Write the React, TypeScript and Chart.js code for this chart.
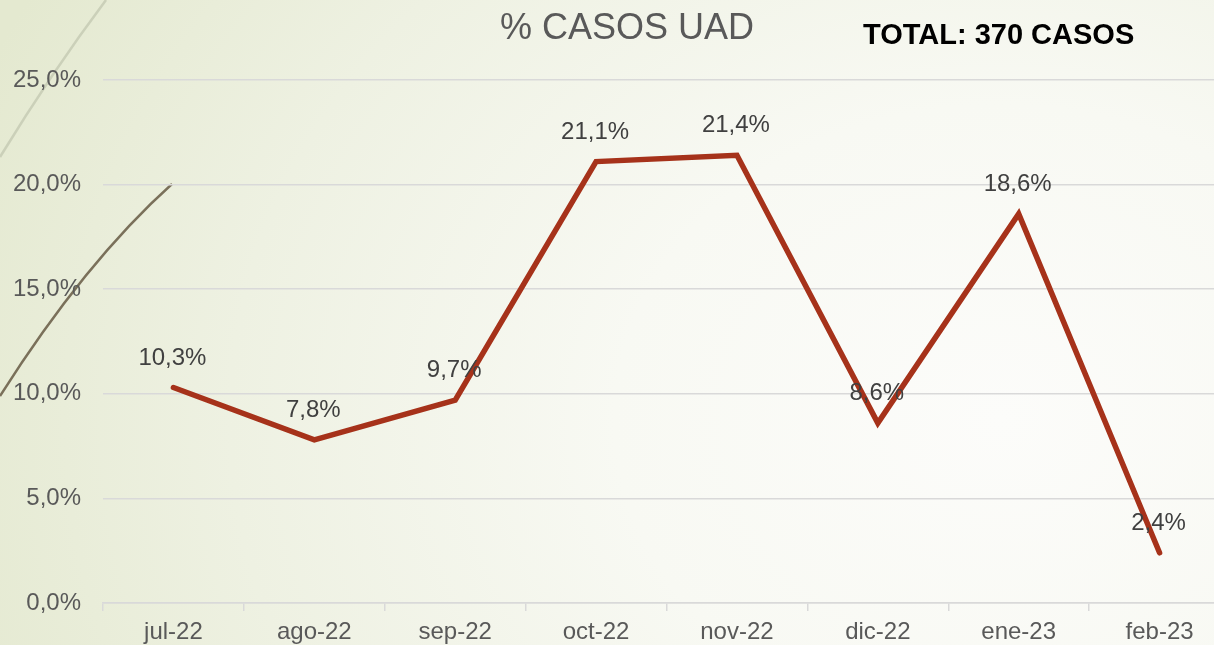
import React, { useEffect, useRef } from "react";
import { Chart, registerables } from "chart.js";

Chart.register(...registerables);

const categories = ["jul-22", "ago-22", "sep-22", "oct-22", "nov-22", "dic-22", "ene-23", "feb-23"];
const percentValues = [10.3, 7.8, 9.7, 21.1, 21.4, 8.6, 18.6, 2.4];
const titleText = "% CASOS UAD";
const totalText = "TOTAL: 370 CASOS";

const FONT = "'Liberation Sans', Arial, sans-serif";
const fmt = (v: number) => v.toFixed(1).replace(".", ",") + "%";

const decoPlugin = {
  id: "deco",
  beforeDraw(chart: any) {
    const ctx = chart.ctx;
    ctx.save();
    // light decorative arc
    ctx.strokeStyle = "rgba(200,205,182,0.9)";
    ctx.lineWidth = 2.5;
    ctx.beginPath();
    ctx.moveTo(0, 157);
    ctx.quadraticCurveTo(52, 72, 106, 0);
    ctx.stroke();
    // dark decorative arc
    ctx.strokeStyle = "#7a705a";
    ctx.lineWidth = 2.4;
    ctx.beginPath();
    ctx.moveTo(0, 396);
    ctx.quadraticCurveTo(85, 262, 172, 184);
    ctx.stroke();
    ctx.restore();
  },
  afterDraw(chart: any) {
    const ctx = chart.ctx;
    ctx.save();
    ctx.textBaseline = "alphabetic";
    ctx.fillStyle = "#595959";
    ctx.font = `36px ${FONT}`;
    ctx.textAlign = "center";
    ctx.fillText(titleText, 627, 39);
    ctx.fillStyle = "#000000";
    ctx.font = `bold 29px ${FONT}`;
    ctx.textAlign = "left";
    ctx.fillText(totalText, 863, 44);
    ctx.restore();
  },
};

const labelPlugin = {
  id: "pointLabels",
  afterDatasetsDraw(chart: any) {
    const ctx = chart.ctx;
    const meta = chart.getDatasetMeta(0);
    ctx.save();
    ctx.fillStyle = "#404040";
    ctx.font = `24px ${FONT}`;
    ctx.textAlign = "center";
    ctx.textBaseline = "alphabetic";
    meta.data.forEach((pt: any, i: number) => {
      ctx.fillText(fmt(percentValues[i]), pt.x - 1, pt.y - 23);
    });
    ctx.restore();
  },
};

export default function App() {
  const ref = useRef<HTMLCanvasElement>(null);
  useEffect(() => {
    if (!ref.current) return;
    const chart = new Chart(ref.current, {
      type: "line",
      data: {
        labels: categories,
        datasets: [
          {
            data: percentValues,
            borderColor: "#A6321A",
            borderWidth: 5.5,
            pointRadius: 0,
            tension: 0,
            borderJoinStyle: "miter",
            borderCapStyle: "round",
            fill: false,
          },
        ],
      },
      options: {
        responsive: false,
        animation: false,
        layout: { padding: { top: 80, right: 10, left: 0, bottom: 0 } },
        plugins: { legend: { display: false }, title: { display: false }, tooltip: { enabled: false } },
        scales: {
          x: {
            offset: true,
            grid: {
              offset: true,
              drawOnChartArea: false,
              drawTicks: true,
              tickLength: 8,
              color: "#d9d9d9",
              lineWidth: 1.5,
            },
            border: { display: true, color: "#d9d9d9", width: 1.5 },
            ticks: {
              color: "#595959",
              font: { family: FONT, size: 24 },
              padding: 7,
              maxRotation: 0,
              autoSkip: false,
            },
            afterFit: (s: any) => {
              s.height = 42;
            },
          },
          y: {
            min: 0,
            max: 25,
            grid: { drawTicks: false, color: "#d9d9d9", lineWidth: 1.5 },
            border: { display: false },
            ticks: {
              stepSize: 5,
              color: "#595959",
              font: { family: FONT, size: 24 },
              padding: 22,
              callback: (v: any) => fmt(Number(v)),
            },
            afterFit: (s: any) => {
              s.width = 103;
            },
          },
        },
      },
      plugins: [decoPlugin, labelPlugin],
    } as any);
    return () => chart.destroy();
  }, []);

  return (
    <div
      style={{
        position: "fixed",
        left: 0,
        top: 0,
        width: 1214,
        height: 645,
        overflow: "hidden",
        background:
          "radial-gradient(ellipse 1100px 900px at 1000px 420px, #fcfcfa 0%, #f8f9f3 35%, #eef1e2 70%, #e4e9d0 100%)",
      }}
    >
      <canvas ref={ref} width={1240} height={645} style={{ width: 1240, height: 645, display: "block" }} />
    </div>
  );
}
